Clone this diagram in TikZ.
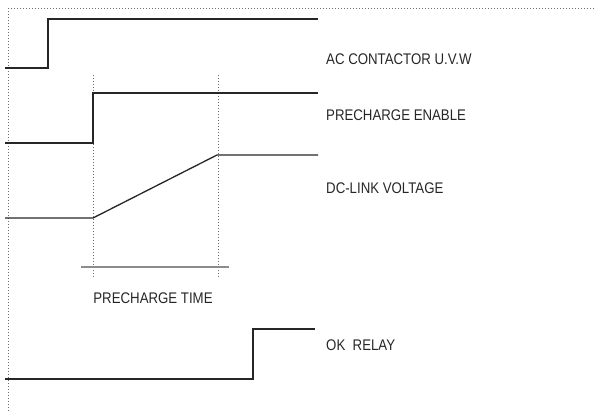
\documentclass[tikz,border=0pt]{standalone}
\usepackage{fontspec}
\setmainfont{Liberation Sans}[FakeStretch=0.86]
\usepackage{xcolor}
\usepackage{tikz}
\usetikzlibrary{positioning, calc}

\definecolor{sigline}{HTML}{262626}
\definecolor{guide}{HTML}{6E6E6E}
\definecolor{timebar}{HTML}{8C8C8C}

\tikzset{
  signal/.style={sigline, line width=1.3pt},
  guideline/.style={guide, line width=1pt, dash pattern=on 1pt off 2pt},
  siglabel/.style={anchor=base west, inner sep=0pt, text=sigline, font=\fontsize{15.4}{16}\selectfont}
}

\begin{document}
\begin{tikzpicture}[x=1pt, y=-1pt]
  \useasboundingbox (0,0) rectangle (594,411);

  % Frame: dotted top and left edges
  \coordinate (TL) at (8,9);
  \coordinate (TR) at (594,9);
  \coordinate (BL) at (8,411);
  \draw[guideline] (TR) -- (TL) -- (BL);

  % Time marks (start / end of precharge)
  \coordinate (T1) at (93,75);
  \coordinate (T2) at (218,75);
  \draw[guideline] (T1) -- ++(0,203);
  \draw[guideline] (T2) -- ++(0,203);

  % AC contactor
  \draw[signal] (5,68) -- (48,68) -- (48,19) -- (318,19);
  \node[siglabel] (acc) at (326,65) {AC CONTACTOR U.V.W};

  % Precharge enable
  \draw[signal] (5,143) -- (93,143) -- (93,93) -- (318,93);
  \node[siglabel] (pen) at (326,120.5) {PRECHARGE ENABLE};

  % DC-link voltage (ramp between the two marks)
  \draw[signal] (5,218) -- (93,218) -- (217,155) -- (318,155);
  \node[siglabel] (dcl) at (326,193.5) {DC-LINK VOLTAGE};

  % Precharge time
  \draw[timebar, line width=1.1pt] (81,267) -- (229,267);
  \node[siglabel, anchor=base] (pct) at (153,303.5) {PRECHARGE TIME};

  % OK relay
  \draw[signal] (5,379) -- (253,379) -- (253,329) -- (315,329);
  \node[siglabel] (okr) at (326,351) {OK\ \ RELAY};
\end{tikzpicture}
\end{document}
